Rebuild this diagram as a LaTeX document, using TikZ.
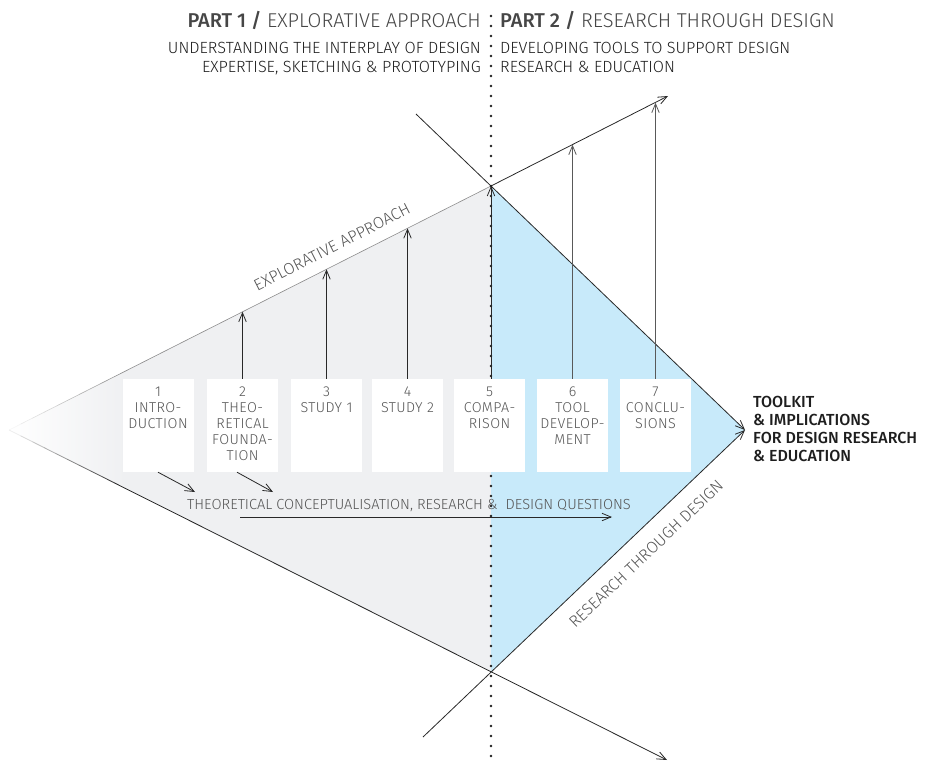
\documentclass[tikz,border=0pt]{standalone}
\usepackage{fontspec}
\setmainfont{Fira Sans Light}[BoldFont={Fira Sans Medium}]
\usetikzlibrary{arrows.meta,calc}
\definecolor{grayfill}{RGB}{239,240,242}
\definecolor{bluefill}{RGB}{200,234,250}
\definecolor{txtgray}{RGB}{85,85,85}
\definecolor{hdgray}{RGB}{70,70,70}
\definecolor{darktxt}{RGB}{30,30,30}
\definecolor{linecol}{RGB}{40,40,40}
\definecolor{edgelight}{RGB}{140,140,140}
\begin{document}
\begin{tikzpicture}[x=1pt,y=-1pt,
  ln/.style={draw=linecol,line width=0.8pt},
  arr/.style={ln,-{Straight Barb[length=9pt,width=7.5pt,line width=0.8pt]}},
  grayarr/.style={arr,draw=black!65},
  box/.style={fill=white,minimum width=71pt,minimum height=93pt,inner sep=0pt},
  boxtxt/.style={font=\fontsize{14.3}{16}\selectfont\addfontfeatures{LetterSpace=3},text=txtgray,align=center,anchor=north,inner sep=0pt},
  hdr/.style={font=\fontsize{20}{24}\selectfont,text=hdgray,inner sep=0pt},
  sub/.style={font=\fontsize{16.2}{19}\selectfont,text=darktxt,inner sep=0pt},
  diag/.style={font=\fontsize{14.6}{17}\selectfont,text=txtgray,inner sep=0pt},
  slant/.style={font=\fontsize{16.2}{18}\selectfont,text=txtgray,inner sep=0pt},
  dotline/.style={draw=darktxt,line width=2.6pt,line cap=round,dash pattern=on 0pt off 10pt}
]
\useasboundingbox (0,0) rectangle (929,761);
% key points
\coordinate (L) at (9,430);
\coordinate (T) at (491,186);
\coordinate (B) at (491,672);
\coordinate (R) at (745,430);
\coordinate (UA) at (668,96);
\coordinate (LA) at (667,760);
\coordinate (NW) at (416,114);
\coordinate (SW) at (423,737);
\coordinate (UF) at (125,371.3);
\coordinate (LF) at (125,488.2);
% fills
\shade[left color=white,right color=grayfill] (L) -- (UF) -- (LF) -- cycle;
\fill[grayfill] ($(UF)+(-0.6,0)$) -- (T) -- (B) -- ($(LF)+(-0.6,0)$) -- cycle;
\fill[bluefill] (T) -- (R) -- (B) -- cycle;
% fading tip edges
\foreach \i in {0,...,9} {
  \pgfmathtruncatemacro\c{10*\i+8}
  \draw[line width=0.6pt,draw=edgelight!\c!white] ($(L)!{\i/10}!(UF)$) -- ($(L)!{(\i+1)/10}!(UF)$);
  \draw[line width=0.8pt,draw=linecol!\c!white] ($(L)!{\i/10}!(LF)$) -- ($(L)!{(\i+1)/10}!(LF)$);
}
\draw[line width=0.6pt,draw=edgelight] (UF) -- (T);
\draw[arr] (T) -- (UA);
\draw[arr] (LF) -- (LA);
\draw[arr] (NW) -- (R);
\draw[arr] (SW) -- (R);
% dotted divider
\coordinate (D1) at (491,16);
\coordinate (D2) at (491,761);
\draw[dotline] (D1) -- (D2);
% boxes
\node[box] (b1) at (158,425.5) {};
\node[box] (b2) at (242.5,425.5) {};
\node[box] (b3) at (326.5,425.5) {};
\node[box] (b4) at (407.5,425.5) {};
\node[box] (b5) at (489.5,425.5) {};
\node[box] (b6) at (572.5,425.5) {};
\node[box] (b7) at (655.5,425.5) {};
\node[boxtxt] (t1) at (158,387) {1\\INTRO-\\DUCTION};
\node[boxtxt] (t2) at (242.5,387) {2\\THEO-\\RETICAL\\FOUNDA-\\TION};
\node[boxtxt] (t3) at (326.5,387) {3\\STUDY 1};
\node[boxtxt] (t4) at (407.5,387) {4\\STUDY 2};
\node[boxtxt] (t5) at (489.5,387) {5\\COMPA-\\RISON};
\node[boxtxt] (t6) at (572.5,387) {6\\TOOL\\DEVELOP-\\MENT};
\node[boxtxt] (t7) at (655.5,387) {7\\CONCLU-\\SIONS};
% vertical arrows
\coordinate (a2) at (242.5,311.8);
\coordinate (a3) at (326.5,269.3);
\coordinate (a4) at (407.5,228.3);
\coordinate (a6) at (572.5,144.7);
\coordinate (a7) at (655.5,102.7);
\draw[arr] (b2.north) -- (a2);
\draw[arr] (b3.north) -- (a3);
\draw[arr] (b4.north) -- (a4);
\draw[arr] (b5.north -| T) -- (T);
\draw[grayarr] (b6.north) -- (a6);
\draw[grayarr] (b7.north) -- (a7);
% lower arrows
\coordinate (d1) at (195,492);
\coordinate (d2) at (273,492);
\draw[arr] (b1.south) -- (d1);
\draw[arr] ($(b2.south)+(-5.5,0)$) -- (d2);
\coordinate (h1) at (240,517);
\coordinate (h2) at (612,517);
\draw[arr] (h1) -- (h2);
\node[diag,anchor=base] (qtext) at (409,509) {THEORETICAL CONCEPTUALISATION, RESEARCH \&\ \ DESIGN QUESTIONS};
% diagonal labels
\node[slant,rotate=27] (explab) at (332,247) {EXPLORATIVE APPROACH};
\node[slant,rotate=43.6] (rtdlab) at (646,554) {RESEARCH THROUGH DESIGN};
% headers
\node[hdr,anchor=base east] (h1t) at (481,27) {\textbf{PART 1 /} EXPLORATIVE APPROACH};
\node[hdr,anchor=base west] (h2t) at (500,27) {\textbf{PART 2 /} RESEARCH THROUGH DESIGN};
\node[sub,anchor=base east] (s1a) at (481,53) {UNDERSTANDING THE INTERPLAY OF DESIGN};
\node[sub,anchor=base east] (s1b) at (481,72) {EXPERTISE, SKETCHING \& PROTOTYPING};
\node[sub,anchor=base west] (s2a) at (500,53) {DEVELOPING TOOLS TO SUPPORT DESIGN};
\node[sub,anchor=base west] (s2b) at (500,72) {RESEARCH \& EDUCATION};
% outcome
\node[font=\fontsize{16}{18}\selectfont\bfseries,text=darktxt,align=left,anchor=north west,inner sep=0pt] (out) at (753,396) {TOOLKIT\\\& IMPLICATIONS\\FOR DESIGN RESEARCH\\\& EDUCATION};
\end{tikzpicture}
\end{document}
